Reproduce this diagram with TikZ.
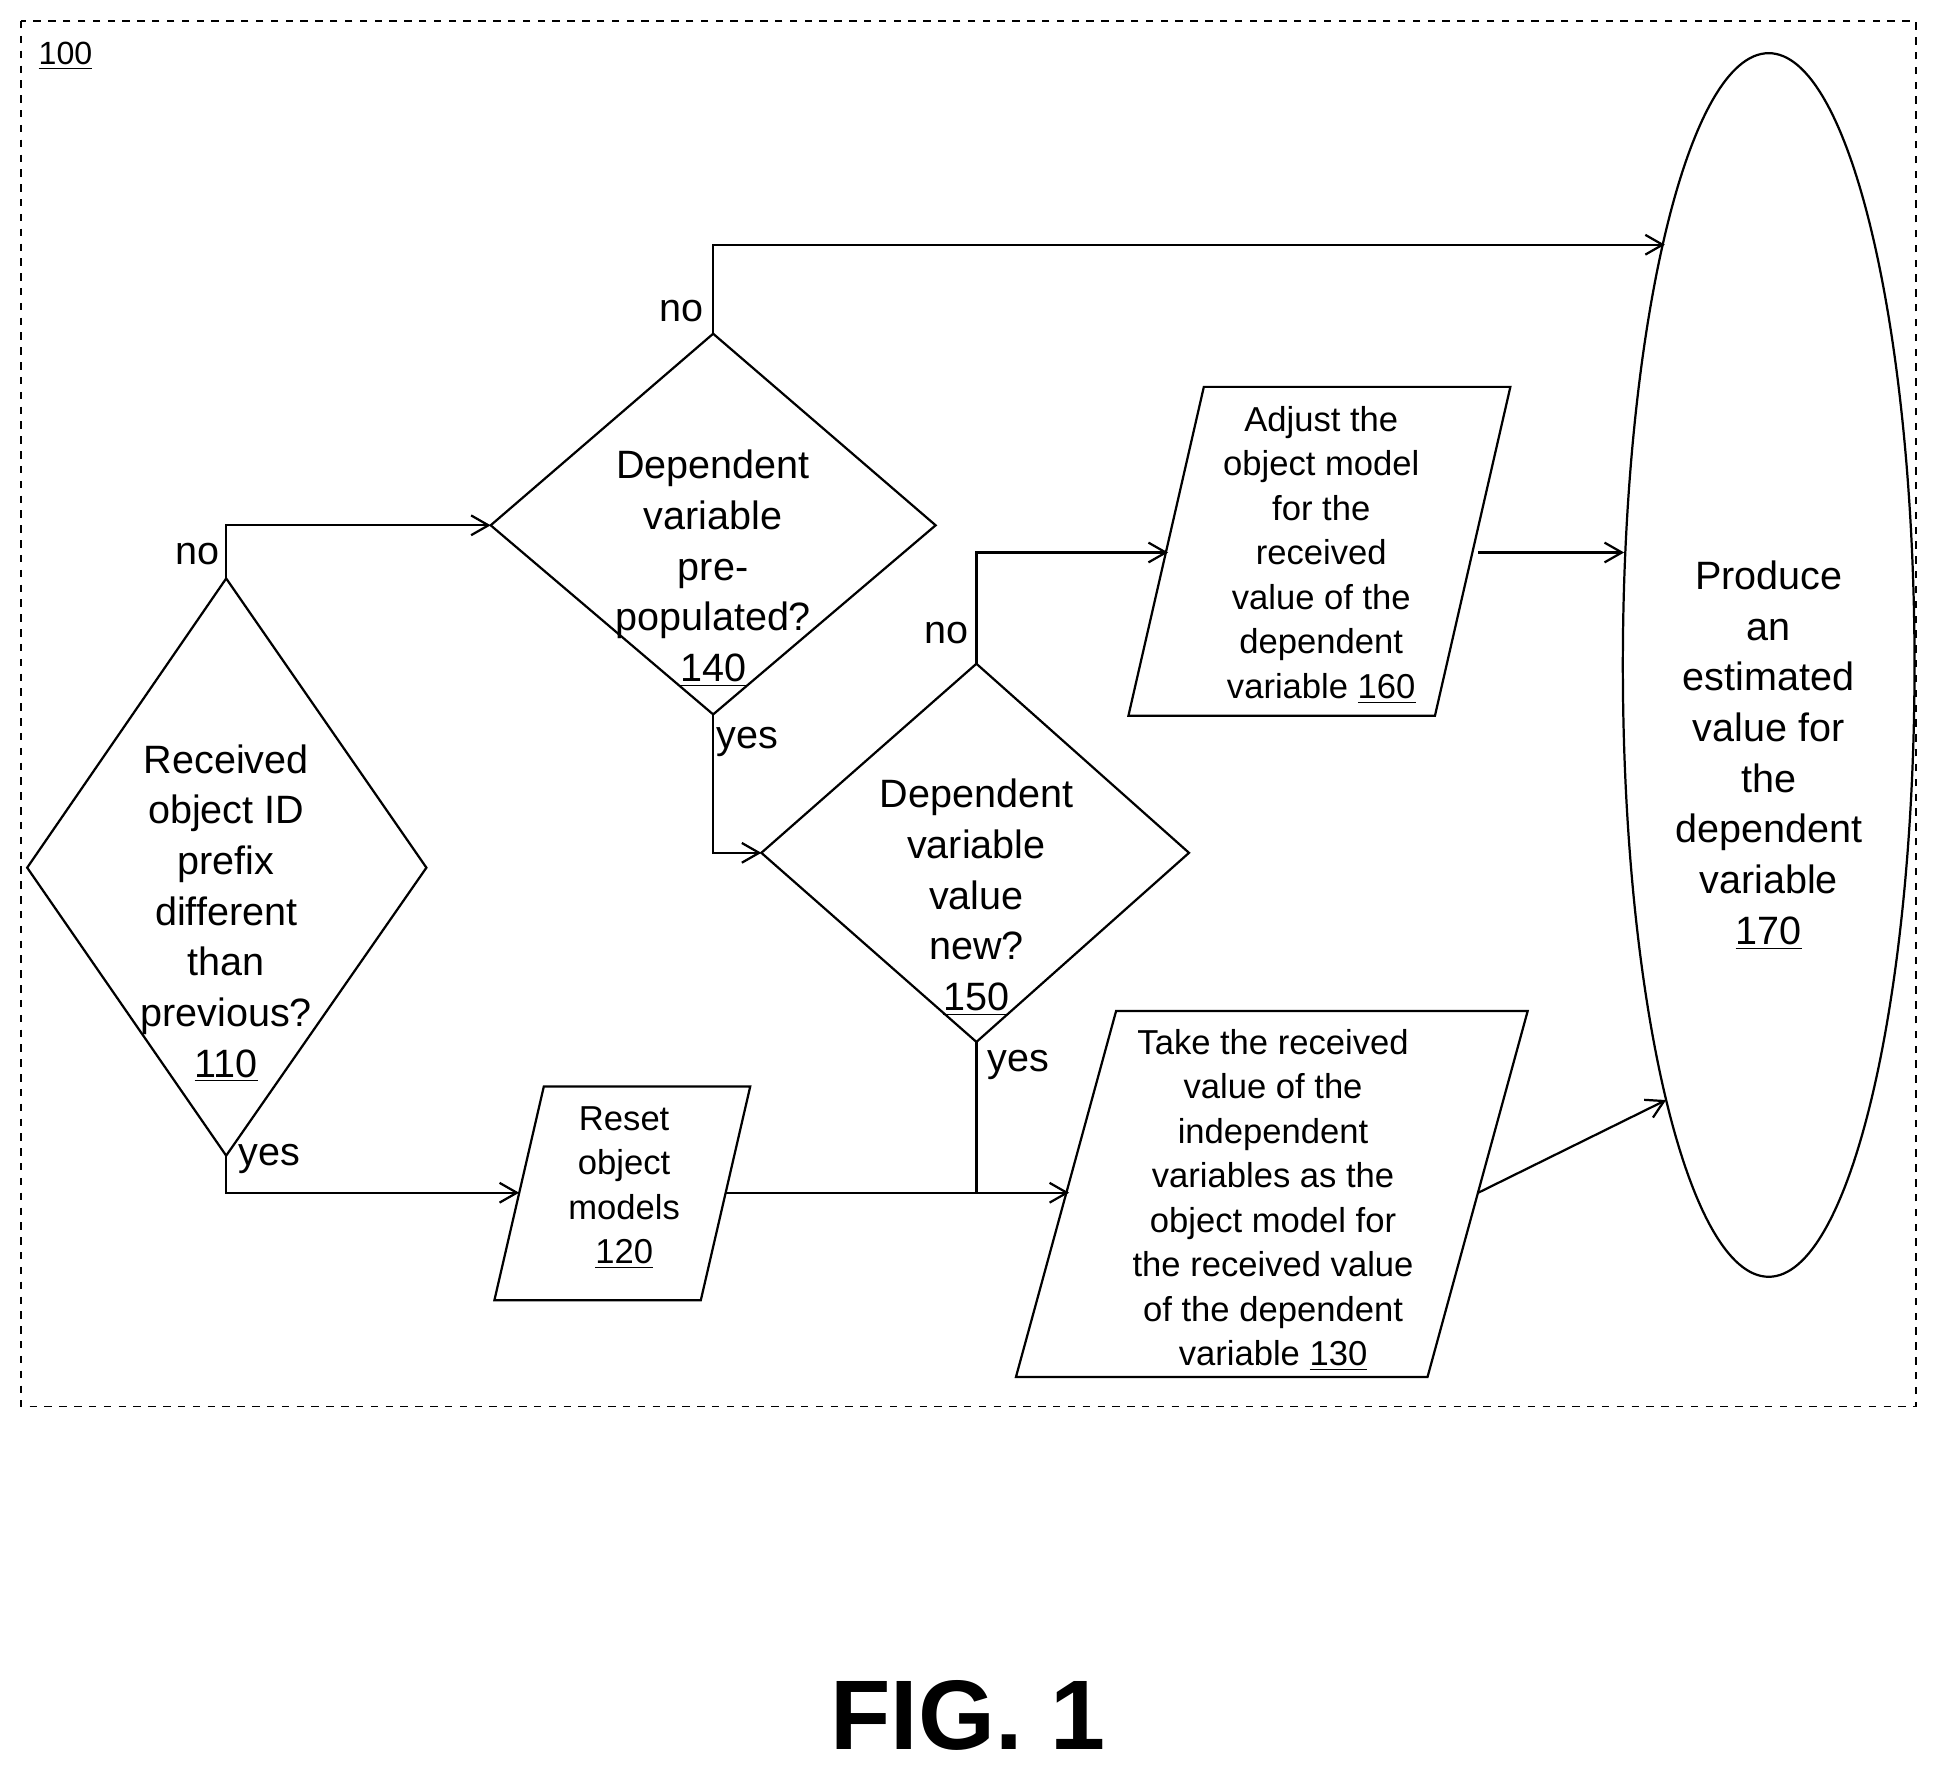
\documentclass[tikz,border=0pt]{standalone}
\usepackage{fontspec}
\setmainfont{Liberation Sans}
\usetikzlibrary{arrows.meta}
\begin{document}
\begin{tikzpicture}[x=0.5pt,y=-0.5pt,
  ln/.style={line width=0.9pt},
  ar/.style={ln,-{Straight Barb[length=7pt,width=8pt]}},
  big/.style={align=center,inner sep=0,font=\fontsize{16}{20.5}\selectfont},
  sm/.style={align=center,inner sep=0,font=\fontsize{14}{18}\selectfont},
  lab/.style={inner sep=0,font=\fontsize{16}{19}\selectfont}]
\useasboundingbox (0,0) rectangle (1568,1432);
\draw[ln,dashed,line width=0.6pt] (17,17) rectangle (1550,1138);
\node[lab,font=\fontsize{13}{15}\selectfont] (n100) at (53,45) {\underline{100}};
% diamond 110
\coordinate (d1t) at (183,468); \coordinate (d1b) at (183,935);
\draw[ln] (d1t) -- (345,702) -- (d1b) -- (22,702) -- cycle;
\node[big] (t110) at (183,739) {Received\\object ID\\prefix\\different\\than\\previous?\\\underline{110}};
% diamond 140
\coordinate (d4t) at (577,270); \coordinate (d4b) at (577,578); \coordinate (d4l) at (397,425);
\draw[ln] (d4t) -- (757,425) -- (d4b) -- (d4l) -- cycle;
\node[big] (t140) at (577,460) {Dependent\\variable\\pre-\\populated?\\\underline{140}};
% diamond 150
\coordinate (d5t) at (790,537); \coordinate (d5b) at (790,843); \coordinate (d5l) at (616,690);
\draw[ln] (d5t) -- (962,690) -- (d5b) -- (d5l) -- cycle;
\node[big] (t150) at (790,726) {Dependent\\variable\\value\\new?\\\underline{150}};
% 120
\draw[ln] (440,879) -- (607,879) -- (567,1052) -- (400,1052) -- cycle;
\coordinate (p2l) at (420,965); \coordinate (p2r) at (587,965);
\node[sm] (t120) at (505,961) {Reset\\object\\models\\\underline{120}};
% 160
\draw[ln] (974,313) -- (1222,313) -- (1161,579) -- (913,579) -- cycle;
\coordinate (p6l) at (945,447); \coordinate (p6r) at (1196,447);
\node[sm] (t160) at (1069,449) {Adjust the\\object model\\for the\\received\\value of the\\dependent\\variable \underline{160}};
% 130
\draw[ln] (903,818) -- (1236,818) -- (1155,1114) -- (822,1114) -- cycle;
\coordinate (p3l) at (865,965); \coordinate (p3r) at (1196,965);
\node[sm] (t130) at (1030,971) {Take the received\\value of the\\independent\\variables as the\\object model for\\the received value\\of the dependent\\variable \underline{130}};
% 170
\draw[ln] (1431,538) ellipse [x radius=118, y radius=495];
\coordinate (e1) at (1347,198); \coordinate (e2) at (1314,447); \coordinate (e3) at (1348,890);
\node[big] (t170) at (1431,611) {Produce\\an\\estimated\\value for\\the\\dependent\\variable\\\underline{170}};
% connectors
\coordinate (j) at (790,965);
\draw[ar] (d1t) |- (d4l);
\draw[ar] (d1b) |- (p2l);
\draw[ar] (d4t) |- (e1);
\draw[ar] (d4b) |- (d5l);
\draw[ar] (d5t) |- (p6l);
\draw[ln] (d5b) -- (j);
\draw[ar] (p2r) -- (p3l);
\draw[ar] (p6r) -- (e2);
\draw[ar] (p3r) -- (e3);
\node[lab] (l1) at (160,448) {no};
\node[lab] (l2) at (218,938) {yes};
\node[lab] (l3) at (551,252) {no};
\node[lab] (l4) at (605,600) {yes};
\node[lab] (l5) at (766,512) {no};
\node[lab] (l6) at (824,862) {yes};
\node[inner sep=0,font=\fontsize{40}{44}\selectfont\bfseries] (fig) at (783,1388) {FIG. 1};
\end{tikzpicture}
\end{document}
